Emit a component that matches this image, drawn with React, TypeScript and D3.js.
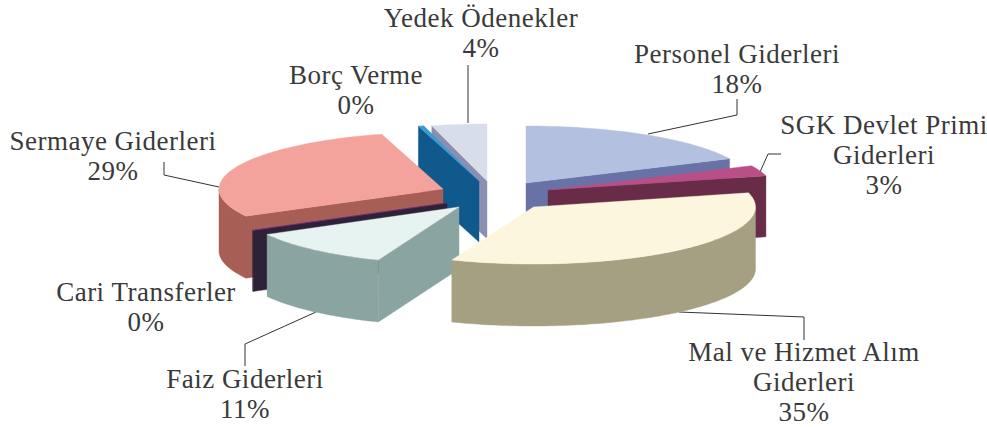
import React from "react";
import * as d3 from "d3";

const categories = [
  ["Personel Giderleri"],
  ["SGK Devlet Primi", "Giderleri"],
  ["Mal ve Hizmet Alım", "Giderleri"],
  ["Faiz Giderleri"],
  ["Cari Transferler"],
  ["Sermaye Giderleri"],
  ["Borç Verme"],
  ["Yedek Ödenekler"],
];
const shares = [18, 3, 35, 11, 0.1, 28.5, 0.4, 4];

const topColors = ["#B3C0E0", "#B84F87", "#FDF6DF", "#E6F3F0", "#7A2A8A", "#F4A39C", "#3A9BD4", "#D7DDEB"];
const sideColors = ["#6872A6", "#682C48", "#A6A083", "#8AA4A1", "#2E2238", "#A65E55", "#10598C", "#8C8FAF"];

// apex of every exploded slice on screen, and its horizontal radius
const apexX = [526, 548, 533.5, 459, 447, 443, 479, 487];
const apexY = [183, 190, 207, 207, 203, 189, 181, 181];
const radiusX = [225, 225, 222, 219, 221, 224, 222, 222];
const heights = [61, 61, 62, 62, 61, 62, 61, 58];
// painter's order, back to front
const drawOrder = [7, 0, 6, 5, 1, 4, 3, 2];

const labelX = [737, 884, 804, 245, 146, 113, 356, 481];
const labelY = [63, 134, 361, 388, 301, 150, 84, 27];
const leaders: [number, number][][] = [
  [[648, 134], [737, 115], [737, 99]],
  [[760, 172], [768, 154], [781, 154]],
  [[679, 312], [804, 317], [804, 340]],
  [[316, 312], [245, 344], [245, 366]],
  [],
  [[219, 187], [164, 175], [164, 162]],
  [],
  [[468, 123], [468, 65]],
];

const RY = 57;
const FONT = '"Liberation Serif", serif';

const pie = d3.pie<number>().sort(null).startAngle(0).endAngle(2 * Math.PI);
const arcs = pie(shares);

const pt = (i: number, a: number, dy = 0): [number, number] => [
  apexX[i] + radiusX[i] * Math.sin(a),
  apexY[i] - RY * Math.cos(a) + dy,
];
const line = d3.line<[number, number]>();
const sample = (a: number, b: number) => {
  const n = Math.max(2, Math.ceil(Math.abs(b - a) / 0.02));
  return d3.range(n + 1).map((k) => a + ((b - a) * k) / n);
};

function Slice({ i }: { i: number }) {
  const { startAngle: a, endAngle: b } = arcs[i];
  const H = heights[i];
  const top: [number, number][] = [[apexX[i], apexY[i]], ...sample(a, b).map((t) => pt(i, t))];
  const faces: [number, number][][] = [];
  const cut = (t: number) => {
    const p = pt(i, t);
    faces.push([[apexX[i], apexY[i]], p, [p[0], p[1] + H], [apexX[i], apexY[i] + H]]);
  };
  if (Math.sin(a) < 0) cut(a);
  if (Math.sin(b) > 0) cut(b);
  const r0 = Math.max(a, Math.PI / 2);
  const r1 = Math.min(b, (3 * Math.PI) / 2);
  if (r1 > r0) {
    const s = sample(r0, r1);
    faces.push([...s.map((t) => pt(i, t)), ...s.slice().reverse().map((t) => pt(i, t, H))]);
  }
  return (
    <g>
      {faces.map((f, k) => (
        <path key={k} d={line(f) + "Z"} fill={sideColors[i]} stroke={sideColors[i]} strokeWidth={0.4} />
      ))}
      <path d={line(top) + "Z"} fill={topColors[i]} stroke={topColors[i]} strokeWidth={0.4} />
    </g>
  );
}

export default function App() {
  return (
    <svg width={987} height={427} style={{ position: "absolute", left: 0, top: 0, background: "#fff" }}>
      {leaders.map((l, i) =>
        l.length ? <path key={i} d={line(l) as string} fill="none" stroke="#333" strokeWidth={1} /> : null
      )}
      {drawOrder.map((i) => (
        <Slice key={i} i={i} />
      ))}
      {categories.map((lines, i) => (
        <text key={i} fontFamily={FONT} fontSize={27} fill="#3a3a3a" textAnchor="middle" letterSpacing={0.5}>
          {lines.map((t, k) => (
            <tspan key={k} x={labelX[i]} y={labelY[i] + k * 30}>
              {t}
            </tspan>
          ))}
          <tspan x={labelX[i]} y={labelY[i] + lines.length * 30}>
            {Math.round(shares[i]) + "%"}
          </tspan>
        </text>
      ))}
    </svg>
  );
}
